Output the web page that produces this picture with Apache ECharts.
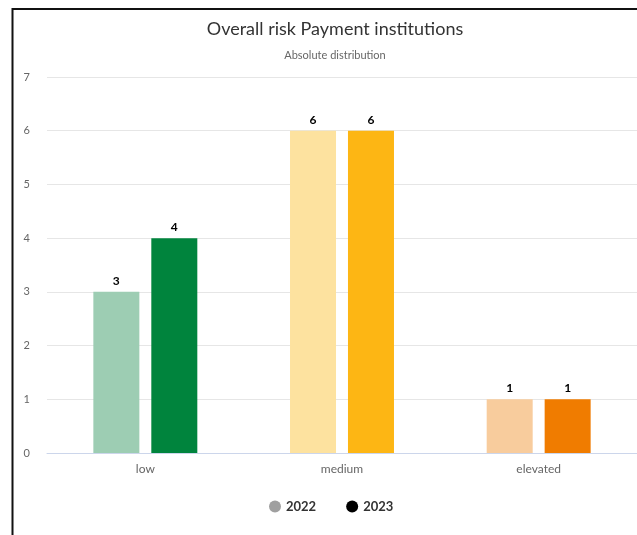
<!DOCTYPE html>
<html>
<head>
<meta charset="utf-8">
<script src="https://cdn.jsdelivr.net/npm/echarts@6/dist/echarts.min.js"></script>
<style>
  html, body { margin: 0; padding: 0; background: #fff; }
  #chart { width: 637px; height: 535px; }
</style>
</head>
<body>
<div id="chart"></div>
<script>
// Risk categories and counts per year
const categories = ['low', 'medium', 'elevated'];
const values2022 = [3, 6, 1];
const values2023 = [4, 6, 1];
const yTicks = [0, 1, 2, 3, 4, 5, 6, 7];

// Per-category bar colours (lighter shade for the earlier year)
const colors2022 = ['#9dcdb3', '#fde29f', '#f8cc9d'];
const colors2023 = ['#00843d', '#fdb614', '#f07c00'];

const FONT = 'Lato, "Open Sans", sans-serif';

function makeData(values, colors) {
  return values.map((v, i) => ({ value: v, itemStyle: { color: colors[i] } }));
}

const labelStyle = {
  show: true,
  position: 'top',
  distance: 5,
  color: '#000',
  fontWeight: 'bold',
  fontSize: 12,
  fontFamily: FONT
};

const chart = echarts.init(document.getElementById('chart'), null, { renderer: 'canvas' });
chart.setOption({
  animation: false,
  backgroundColor: '#fff',
  textStyle: { fontFamily: FONT },
  title: {
    text: 'Overall risk Payment institutions',
    subtext: 'Absolute distribution',
    left: 330,
    textAlign: 'center',
    top: 15,
    itemGap: 12,
    textStyle: { fontSize: 18, fontWeight: 'normal', color: '#333', fontFamily: FONT },
    subtextStyle: { fontSize: 11, color: '#666', fontFamily: FONT }
  },
  legend: {
    bottom: 17,
    left: 264,
    itemWidth: 12,
    itemHeight: 12,
    itemGap: 30,
    icon: 'circle',
    textStyle: { fontSize: 13, fontWeight: 'bold', color: '#333', fontFamily: FONT },
    data: ['2022', '2023']
  },
  grid: { left: 47, right: 0, top: 77, bottom: 82, containLabel: false },
  xAxis: {
    type: 'category',
    data: categories,
    axisTick: { show: false },
    axisLine: { lineStyle: { color: '#ccd6eb' } },
    axisLabel: { color: '#666', fontSize: 12, margin: 10, fontFamily: FONT }
  },
  yAxis: {
    type: 'value',
    min: yTicks[0],
    max: yTicks[yTicks.length - 1],
    interval: 1,
    axisLabel: { color: '#666', fontSize: 11, margin: 17, fontFamily: FONT },
    splitLine: { lineStyle: { color: '#e6e6e6' } },
    axisLine: { show: false },
    axisTick: { show: false }
  },
  series: [
    {
      name: '2022',
      type: 'bar',
      barWidth: 46,
      barGap: '26%',
      itemStyle: { color: '#a0a0a0' },
      label: labelStyle,
      data: makeData(values2022, colors2022)
    },
    {
      name: '2023',
      type: 'bar',
      barWidth: 46,
      barGap: '26%',
      itemStyle: { color: '#000' },
      label: labelStyle,
      data: makeData(values2023, colors2023)
    }
  ],
  graphic: [
    {
      type: 'polyline',
      shape: { points: [[12.5, 535], [12.5, 9], [637, 9]] },
      style: { stroke: '#111', lineWidth: 2, fill: null },
      z: 100
    }
  ]
});
</script>
</body>
</html>
